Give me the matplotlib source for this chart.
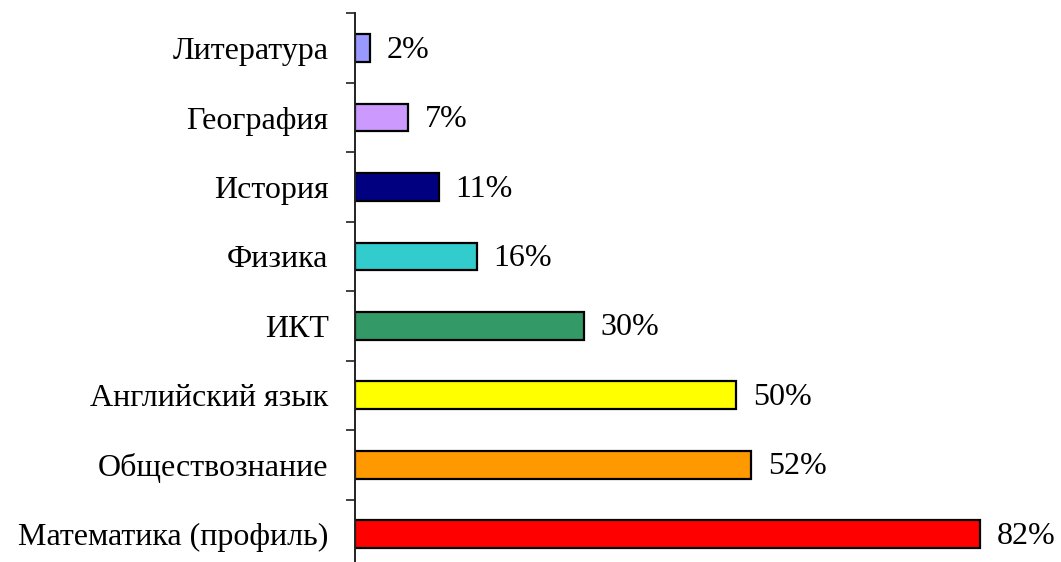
import matplotlib.pyplot as plt
from matplotlib.ticker import FixedLocator

# Data (bottom to top)
subjects = ["Математика (профиль)", "Обществознание", "Английский язык", "ИКТ",
            "Физика", "История", "География", "Литература"]
percents = [82, 52, 50, 30, 16, 11, 7, 2]
colors = ["#FF0000", "#FF9900", "#FFFF00", "#339966",
          "#33CCCC", "#000080", "#CC99FF", "#9999FF"]

plt.rcParams["font.family"] = ["Liberation Serif", "DejaVu Serif"]

fig = plt.figure(figsize=(10.61, 5.62), dpi=100)
ax = fig.add_axes([0.3346, -0.0125, 0.6466, 0.9888])

ypos = list(range(len(subjects)))
ax.barh(ypos, percents, height=0.4, color=colors, edgecolor="black", linewidth=1.6)

for y, v in zip(ypos, percents):
    ax.annotate(f"{v}%", xy=(v, y), xytext=(12, -1.5), textcoords="offset points",
                va="center", ha="left", fontsize=23)

ax.set_xlim(0, 90)
ax.set_ylim(-0.5, len(subjects) - 0.5)

ax.set_yticks(ypos)
ax.set_yticklabels(subjects, fontsize=23)
ax.yaxis.set_minor_locator(FixedLocator([i - 0.5 for i in range(len(subjects) + 1)]))
ax.tick_params(axis="y", which="major", length=0, pad=19)
ax.tick_params(axis="y", which="minor", length=6.5, width=1.3, color="#333333")
ax.set_xticks([])

for s in ["top", "right", "bottom"]:
    ax.spines[s].set_visible(False)
ax.spines["left"].set_linewidth(1.4)
ax.spines["left"].set_color("#222222")

fig.savefig("out.png", dpi=100)
